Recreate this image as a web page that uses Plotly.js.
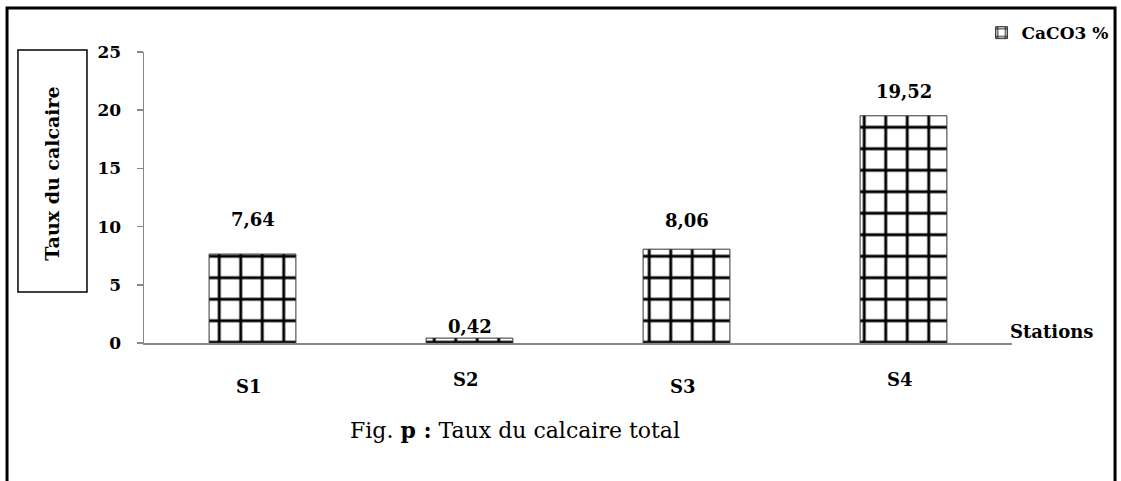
<!DOCTYPE html>
<html>
<head>
<meta charset="utf-8">
<script src="https://cdn.plot.ly/plotly-3.0.1.min.js"></script>
<style>
html,body{margin:0;padding:0;background:#fff;}
#chart{width:1121px;height:481px;}
</style>
</head>
<body>
<div id="chart"></div>
<script>
// ---- data ----
const stations = ["S1", "S2", "S3", "S4"];
const caco3 = [7.64, 0.42, 8.06, 19.52];
const valueLabels = ["7,64", "0,42", "8,06", "19,52"];
const yTicks = [0, 5, 10, 15, 20, 25];
const seriesName = "CaCO3 %";

// ---- styling constants ----
const SERIF = "DejaVu Serif, Liberation Serif, serif";
const labelShift = [35, 12, 29, 24];       // px above bar top
const catLabelY = [-0.148, -0.124, -0.148, -0.124];

const trace = {
  type: "bar",
  x: stations,
  y: caco3,
  name: seriesName,
  width: 0.4,
  marker: {
    color: "#ffffff",
    line: {color: "#333333", width: 1},
    pattern: {shape: "+", size: 21.5, solidity: 0.25, fgcolor: "#000000", fgopacity: 1, bgcolor: "#ffffff", fillmode: "replace"}
  },
  hoverinfo: "x+y"
};

const annotations = [];
stations.forEach((s, i) => {
  annotations.push({
    x: s, y: caco3[i], xref: "x", yref: "y",
    text: "<b>" + valueLabels[i] + "</b>", showarrow: false,
    xanchor: "center", yanchor: "middle", yshift: labelShift[i],
    font: {family: SERIF, size: 18, color: "#000"}
  });
  annotations.push({
    x: s, y: catLabelY[i], xref: "x", yref: "paper",
    text: "<b>" + s + "</b>", showarrow: false, xanchor: "center", yanchor: "middle",
    xshift: -4,
    font: {family: SERIF, size: 18, color: "#000"}
  });
});
annotations.push({
  x: 1.045, y: 0.038, xref: "paper", yref: "paper",
  text: "<b>Stations</b>", showarrow: false, xanchor: "center", yanchor: "middle",
  font: {family: SERIF, size: 18, color: "#000"}
});
annotations.push({
  x: -0.1054, y: 0.58, xref: "paper", yref: "paper",
  text: "<b>Taux du calcaire</b>", showarrow: false, textangle: -90,
  xanchor: "center", yanchor: "middle",
  font: {family: SERIF, size: 19, color: "#000"}
});
annotations.push({
  x: 0.4274, y: -0.299, xref: "paper", yref: "paper",
  text: "Fig. <b>p :</b> Taux du calcaire total", showarrow: false,
  xanchor: "center", yanchor: "middle",
  font: {family: SERIF, size: 22, color: "#000"}
});

const layout = {
  width: 1121, height: 481,
  margin: {l: 144, r: 109, t: 52, b: 138, autoexpand: false},
  paper_bgcolor: "#fff", plot_bgcolor: "#fff",
  showlegend: true,
  legend: {
    x: 1.117, y: 1.065, xanchor: "right", yanchor: "middle",
    font: {family: SERIF, size: 17, color: "#000", weight: "bold"},
    bgcolor: "rgba(0,0,0,0)", itemwidth: 30
  },
  xaxis: {
    type: "category", range: [-0.5, 3.5],
    showticklabels: false, ticks: "",
    showline: true, linecolor: "#888", linewidth: 1.5,
    showgrid: false, zeroline: false, fixedrange: true
  },
  yaxis: {
    range: [0, 25], tickvals: yTicks,
    ticktext: yTicks.map(v => "<b>" + v + "</b>"),
    ticks: "outside", ticklen: 6, tickcolor: "#888", tickwidth: 1.5,
    ticklabelstandoff: 12,
    showline: true, linecolor: "#888", linewidth: 1.5,
    showgrid: false, zeroline: false,
    tickfont: {family: SERIF, size: 17, color: "#000"}, fixedrange: true
  },
  annotations: annotations,
  shapes: [
    {type: "rect", xref: "paper", yref: "paper",
     x0: -0.1578, x1: 1.1187, y0: -0.6, y1: 1.1512,
     line: {color: "#000", width: 3}, fillcolor: "rgba(0,0,0,0)"},
    {type: "rect", xref: "paper", yref: "paper",
     x0: -0.1452, x1: -0.0657, y0: 0.1753, y1: 1.0069,
     line: {color: "#000", width: 1.5}, fillcolor: "rgba(0,0,0,0)"}
  ],
  font: {family: SERIF, color: "#000"}
};

Plotly.newPlot("chart", [trace], layout, {displayModeBar: false, staticPlot: true});
</script>
</body>
</html>
